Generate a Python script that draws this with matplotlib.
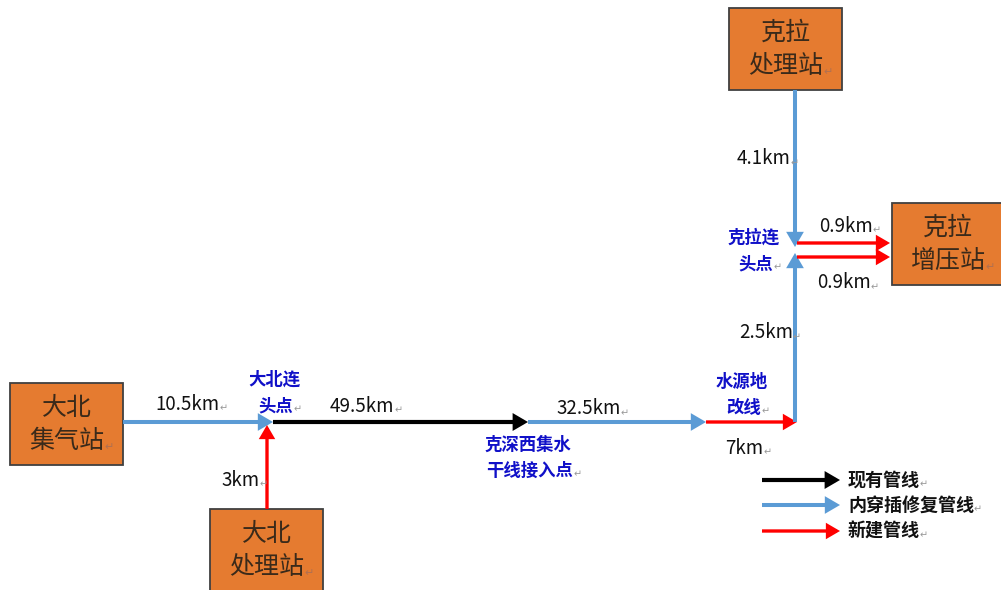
import matplotlib
matplotlib.use("Agg")
import matplotlib.pyplot as plt
from matplotlib.patches import Rectangle, FancyArrowPatch

plt.rcParams['font.family'] = ['Noto Sans CJK SC', 'DejaVu Sans']

# stations (orange boxes): name lines, left, top, width, height in pixels
station_names = [["大北", "集气站"], ["大北", "处理站"], ["克拉", "处理站"], ["克拉", "增压站"]]
station_boxes = [(10, 383, 113, 82), (210, 509, 113, 85), (729, 8, 113, 82), (892, 203, 112, 82)]

# pipeline segments: start, end, type
seg_start = [(123, 422), (267, 509), (273, 422), (528, 422), (706, 422), (795, 422), (795, 90), (797, 243), (797, 257)]
seg_end = [(273, 422), (267, 425), (528, 422), (706, 422), (797, 422), (795, 253), (795, 247), (890, 243), (890, 257)]
seg_type = ["blue", "red", "black", "blue", "red", "blue", "blue", "red", "red"]

# distance labels
dist_text = ["10.5km", "3km", "49.5km", "32.5km", "7km", "2.5km", "4.1km", "0.9km", "0.9km"]
dist_pos = [(155, 404), (221, 480), (330, 406), (556, 409), (725, 448), (739, 333), (737, 159), (819, 226), (817, 283)]

# junction labels (blue bold)
junc_text = ["大北连\n头点", "克深西集水\n干线接入点", "水源地\n改线", "克拉连\n头点"]
junc_pos = [(274, 393), (528, 458), (742, 395), (754, 251)]

# legend
legend_types = ["black", "blue", "red"]
legend_labels = ["现有管线", "内穿插修复管线", "新建管线"]
legend_y = [480, 505, 531]

colors = {"black": "#000000", "blue": "#5B9BD5", "red": "#FF0000"}
widths = {"black": 3.0, "blue": 2.9, "red": 2.4}
mark = "\u21b5"

fig = plt.figure(figsize=(10.01, 5.90), dpi=100)
ax = fig.add_axes([0, 0, 1, 1])
ax.set_xlim(0, 1001)
ax.set_ylim(590, 0)
ax.axis('off')


def arrow(p0, p1, kind):
    a = FancyArrowPatch(p0, p1, arrowstyle='-|>,head_length=0.6,head_width=0.35',
                        mutation_scale=11, color=colors[kind], lw=widths[kind],
                        shrinkA=0, shrinkB=0, joinstyle='miter', capstyle='butt')
    ax.add_patch(a)


for (x, y, w, h), names in zip(station_boxes, station_names):
    ax.add_patch(Rectangle((x, y), w, h, facecolor="#E57B30", edgecolor="#404040", lw=1.3))
    cx = x + w / 2
    ax.text(cx, y + 25, names[0], ha='center', va='center', fontsize=18, color="#3a2a1a")
    t = ax.text(cx, y + 58, names[1], ha='center', va='center', fontsize=18, color="#3a2a1a")
    ax.annotate(mark, xy=(1, 0.25), xycoords=t, ha='left', va='center', fontsize=8, color="#b07050")

for p0, p1, kind in zip(seg_start, seg_end, seg_type):
    arrow(p0, p1, kind)

for txt, (x, y) in zip(dist_text, dist_pos):
    t = ax.text(x, y, txt, ha='left', va='center', fontsize=13.5, color="#111111")
    ax.annotate(mark, xy=(1, 0.3), xycoords=t, ha='left', va='center', fontsize=7, color="#999999")

for txt, (x, y) in zip(junc_text, junc_pos):
    lines = txt.split("\n")
    ax.text(x, y - 13, lines[0], ha='center', va='center', fontsize=12.5, fontweight='bold', color="#1010C8")
    t = ax.text(x + 2, y + 13, lines[1], ha='center', va='center', fontsize=12.5, fontweight='bold', color="#1010C8")
    ax.annotate(mark, xy=(1, 0.3), xycoords=t, ha='left', va='center', fontsize=7, color="#999999")

for kind, label, y in zip(legend_types, legend_labels, legend_y):
    arrow((762, y), (840, y), kind)
    t = ax.text(848, y, label, ha='left', va='center', fontsize=13, fontweight='bold', color="#111111")
    ax.annotate(mark, xy=(1, 0.3), xycoords=t, ha='left', va='center', fontsize=7, color="#999999")

fig.savefig("out.png", dpi=100)
